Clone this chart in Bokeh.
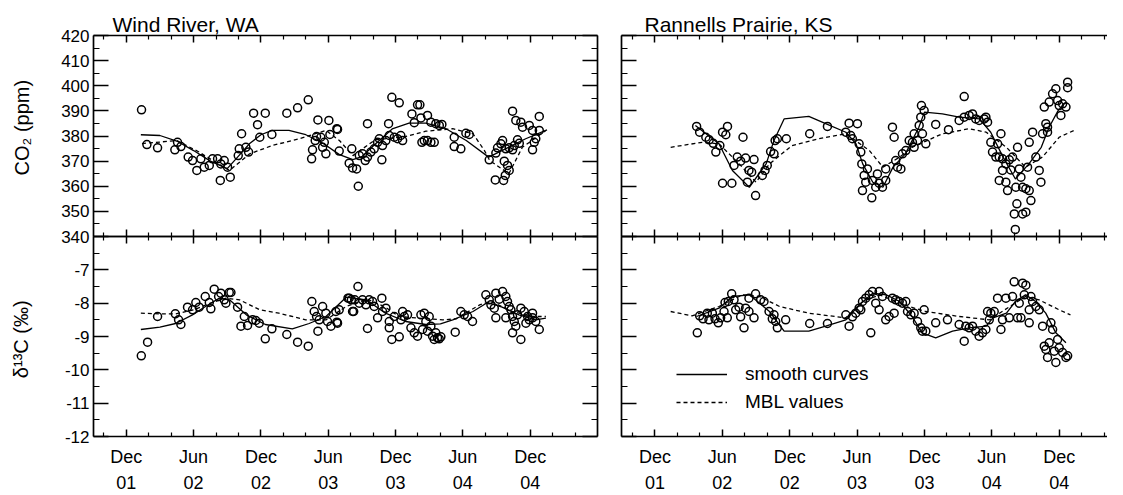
from bokeh.plotting import figure
from bokeh.models import LinearAxis, FixedTicker, Range1d, Legend, LegendItem
from bokeh.layouts import column, row
from bokeh.embed import file_html
from bokeh.resources import INLINE

FONT = "Liberation Sans"

# x values: months relative to Dec 2001
x_major = [0, 6, 12, 18, 24, 30, 36]
x_minor = [-2, 2, 4, 8, 10, 14, 16, 20, 22, 26, 28, 32, 34, 38, 40]
x_labels = ["Dec\n01", "Jun\n02", "Dec\n02", "Jun\n03", "Dec\n03", "Jun\n04", "Dec\n04"]

co2_major = [340, 350, 360, 370, 380, 390, 400, 410, 420]
co2_minor = [345, 355, 365, 375, 385, 395, 405, 415]
d13c_major = [-12, -11, -10, -9, -8, -7]
d13c_minor = [-11.5, -10.5, -9.5, -8.5, -7.5, -6.5]
d13c_labels = ["-12", "-11", "-10", "-9", "-8", "-7"]

titles = ["Wind River, WA", "Rannells Prairie, KS"]
legend_labels = ["smooth curves", "MBL values"]

# ---------------- Wind River CO2 ----------------
wr_co2_t = [1.36, 1.84, 2.79, 4.33, 4.57, 4.87, 5.52, 5.91, 6.29, 6.65, 6.95, 7.40, 7.69, 8.14, 8.43,
            8.73, 9.03, 8.38, 9.27, 9.98, 10.07, 10.28, 10.66, 10.90, 11.35, 11.70, 11.90, 12.39, 12.98,
            14.31, 15.27, 16.22, 17.08, 18.06, 18.77, 16.52, 16.60, 16.84, 16.96, 17.34, 17.65, 17.79,
            18.15, 17.50, 18.98, 19.87, 20.10, 18.83, 20.17, 20.53, 20.68, 20.77, 21.06, 21.30, 21.50,
            21.80, 22.10, 22.78, 21.50, 22.40, 22.55, 22.84, 23.14, 23.44, 23.38, 23.67, 24.33, 23.89,
            24.18, 24.63, 24.47, 25.46, 25.67, 25.96, 26.17, 26.35, 26.56, 26.85, 27.15, 27.45, 26.26,
            26.85, 27.15, 27.59, 27.90, 28.13, 29.23, 29.23, 29.82, 30.27, 30.57, 32.35, 32.94, 33.09,
            33.39, 33.54, 33.83, 34.13, 34.43, 34.58, 35.03, 32.89, 33.63, 33.78, 34.13, 33.98, 33.69,
            34.43, 34.72, 35.17, 35.32, 35.92, 36.21, 36.50, 36.21, 36.36, 36.81, 36.81, 34.87]
wr_co2_v = [390.4, 376.6, 375.3, 374.5, 377.5, 375.8, 371.6, 370.2, 366.3, 370.9, 367.6, 368.3, 370.9, 370.9, 368.9,
            370.2, 367.6, 362.3, 363.6, 372.2, 374.9, 380.9, 375.5, 373.6, 389.1, 384.5, 379.5, 389.1, 380.6,
            389.1, 391.2, 394.4, 386.4, 386.2, 382.9, 370.9, 374.5, 378.2, 379.8, 379.5, 377.5, 372.9,
            380.6, 375.5, 374.0, 369.2, 374.9, 382.6, 367.3, 366.9, 360.0, 372.2, 372.9, 370.2, 371.6,
            373.6, 374.9, 370.5, 384.9, 377.5, 378.9, 376.2, 378.2, 380.2, 384.9, 395.4, 393.2, 379.5,
            378.9, 378.2, 380.2, 388.8, 385.3, 392.4, 392.4, 377.5, 378.2, 378.2, 377.5, 377.5, 387.2,
            388.2, 385.5, 384.9, 384.2, 384.6, 379.5, 375.8, 374.9, 381.1, 380.6, 370.5, 373.2, 375.3,
            376.9, 378.2, 374.9, 375.3, 374.5, 376.2, 377.1, 362.5, 362.3, 364.3, 366.3, 368.3, 370.0,
            389.9, 386.2, 385.5, 383.5, 384.2, 382.2, 378.9, 374.5, 377.5, 387.8, 382.2, 378.5]
wr_co2_smooth_t = [1.3, 3.0, 4.5, 6.0, 7.5, 9.0, 10.0, 11.0, 12.0, 13.0, 14.5, 16.0, 17.5, 19.0, 20.2,
                   21.0, 22.2, 23.7, 25.2, 26.7, 28.5, 30.3, 32.3, 33.8, 35.6, 37.5]
wr_co2_smooth_v = [380.5, 380.2, 378.0, 374.2, 370.0, 367.0, 372.0, 377.0, 380.5, 382.2, 382.2, 380.5, 377.2,
                   372.6, 370.6, 371.8, 376.8, 382.8, 385.1, 385.1, 382.9, 378.2, 371.6, 374.9, 378.9, 382.4]
wr_co2_mbl_t = [1.4, 3.0, 4.5, 6.5, 7.8, 9.2, 11.0, 13.0, 15.4, 17.8, 19.0, 20.2, 22.2, 24.9, 26.7,
                29.1, 30.9, 31.9, 32.4, 34.1, 35.3, 37.4]
wr_co2_mbl_v = [377.0, 377.6, 378.2, 373.6, 370.0, 366.3, 372.9, 376.2, 378.9, 382.2, 378.2, 372.2, 378.5,
                379.8, 381.9, 382.9, 380.9, 374.4, 370.2, 365.0, 375.5, 382.2]

# ---------------- Wind River d13C ----------------
wr_d13c_t = [1.34, 1.90, 2.79, 4.37, 4.66, 4.87, 5.46, 5.91, 6.20, 6.50, 7.04, 7.40, 7.54, 7.84, 8.23,
             8.43, 8.73, 8.88, 9.18, 9.33, 9.92, 10.22, 10.52, 10.81, 11.26, 11.55, 11.85, 12.39, 12.98,
             14.31, 15.27, 16.22, 16.54, 16.75, 16.96, 17.20, 17.08, 17.50, 17.79, 17.94, 18.24, 18.77,
             18.98, 19.87, 20.17, 18.68, 18.83, 19.76, 20.06, 20.36, 20.27, 20.65, 20.77, 21.06, 21.36,
             21.50, 21.65, 21.95, 22.10, 22.40, 22.78, 22.84, 23.14, 23.44, 23.44, 23.67, 23.89, 24.33,
             24.63, 24.78, 24.48, 25.07, 25.37, 25.67, 25.96, 26.26, 26.56, 26.70, 27.00, 26.41, 26.85,
             27.15, 27.30, 27.45, 27.59, 27.74, 27.89, 28.04, 29.32, 29.82, 30.12, 30.42, 30.86, 32.05,
             32.35, 32.50, 32.94, 33.24, 32.80, 32.94, 33.54, 33.83, 33.98, 34.13, 34.28, 34.43, 34.58,
             34.72, 34.43, 35.17, 34.87, 35.17, 35.47, 35.77, 35.92, 36.21, 36.50, 36.81, 33.83, 35.62, 36.21]
wr_d13c_v = [-9.58, -9.17, -8.40, -8.32, -8.50, -8.64, -8.12, -8.20, -7.98, -8.12, -7.80, -7.98, -8.17, -7.58, -7.80,
             -7.70, -7.90, -8.00, -7.68, -7.68, -8.12, -8.69, -8.40, -8.67, -8.50, -8.52, -8.60, -9.07, -8.77,
             -8.94, -9.17, -9.29, -7.95, -8.25, -8.40, -8.50, -8.84, -8.10, -8.30, -8.55, -8.69, -8.57,
             -8.20, -7.85, -8.25, -8.25, -8.60, -7.85, -7.90, -7.90, -8.25, -7.50, -8.00, -7.90, -8.05,
             -8.76, -7.90, -7.95, -8.10, -8.44, -7.85, -8.25, -8.15, -8.55, -8.74, -9.09, -8.40, -9.01,
             -8.25, -8.40, -8.50, -8.35, -8.74, -8.89, -8.99, -8.35, -8.30, -8.55, -8.40, -8.79, -8.84,
             -8.69, -8.99, -9.09, -8.89, -9.04, -9.07, -9.01, -8.87, -8.25, -8.35, -8.40, -8.55, -7.75,
             -7.90, -8.05, -7.70, -7.88, -8.15, -8.44, -7.65, -7.80, -7.95, -8.10, -8.20, -8.40, -8.55,
             -8.69, -8.89, -9.09, -8.35, -8.15, -8.25, -8.40, -8.50, -8.44, -8.55, -8.79, -8.44, -8.60, -8.30]
wr_d13c_smooth_t = [1.3, 3.0, 4.4, 5.9, 7.2, 8.3, 9.2, 10.7, 12.4, 14.8, 16.3, 17.8, 19.6, 21.4, 23.1,
                    24.9, 26.7, 28.0, 29.1, 30.9, 32.2, 33.5, 35.0, 36.5, 37.4]
wr_d13c_smooth_v = [-8.79, -8.72, -8.61, -8.35, -8.07, -7.85, -7.90, -8.35, -8.64, -8.77, -8.61, -8.40, -7.82,
                    -7.90, -8.30, -8.55, -8.64, -8.62, -8.50, -8.25, -7.98, -8.12, -8.35, -8.50, -8.45]
wr_d13c_mbl_t = [1.3, 3.0, 4.4, 6.0, 7.5, 8.9, 10.1, 11.9, 13.6, 16.0, 17.8, 19.6, 21.5, 23.0, 24.3,
                 26.1, 28.2, 29.4, 31.5, 32.5, 34.4, 36.2, 37.4]
wr_d13c_mbl_v = [-8.30, -8.32, -8.32, -8.20, -8.00, -7.85, -7.90, -8.20, -8.30, -8.50, -8.50, -8.10, -7.88,
                 -8.10, -8.40, -8.45, -8.50, -8.47, -8.05, -7.95, -8.25, -8.40, -8.40]

# ---------------- Rannells Prairie CO2 ----------------
rp_co2_t = [3.71, 3.98, 4.53, 4.83, 5.19, 5.42, 5.78, 6.02, 6.46, 6.31, 6.02, 6.85, 7.04, 7.33, 7.63,
            8.07, 8.37, 8.23, 8.82, 8.61, 8.96, 9.56, 9.80, 10.00, 10.30, 10.60, 10.70, 10.90, 11.70,
            7.84, 13.78, 15.36, 17.29, 18.03, 16.99, 17.43, 17.58, 18.18, 18.33, 18.42, 18.63, 18.92,
            18.77, 19.37, 19.66, 19.96, 20.26, 20.55, 19.81, 18.48, 19.31, 20.55, 21.15, 21.30, 21.44,
            21.60, 21.90, 22.04, 22.34, 22.64, 22.93, 23.08, 23.08, 23.38, 23.67, 23.73, 23.97, 24.12,
            23.82, 23.53, 25.00, 26.14, 27.54, 27.09, 27.54, 27.98, 28.28, 28.57, 28.87, 29.32, 29.62,
            29.47, 29.91, 30.06, 30.36, 30.51, 30.81, 30.66, 30.95, 31.25, 31.55, 31.84, 31.69, 30.95,
            30.66, 31.25, 31.40, 32.29, 32.44, 32.59, 32.14, 32.74, 33.03, 33.33, 33.48, 32.23, 32.00,
            32.74, 33.03, 32.09, 33.18, 33.33, 33.63, 33.92, 34.22, 34.37, 34.52, 34.67, 34.81, 34.96,
            35.11, 35.41, 35.70, 35.86, 36.00, 36.15, 36.30, 36.60, 36.75, 36.75, 34.96]
rp_co2_v = [383.8, 381.5, 379.5, 378.5, 377.1, 373.6, 376.2, 381.5, 383.8, 380.5, 361.2, 361.2, 368.3, 371.6, 370.0,
            371.2, 366.3, 361.6, 370.6, 365.6, 356.3, 364.3, 366.3, 368.3, 373.8, 372.9, 378.2, 378.9, 378.9,
            379.5, 380.9, 383.8, 385.1, 384.9, 381.5, 380.2, 378.9, 376.9, 373.6, 368.9, 364.3, 366.9,
            361.6, 362.3, 359.6, 361.2, 359.6, 362.3, 364.9, 358.3, 355.4, 366.9, 383.5, 379.5, 370.2,
            367.6, 366.9, 372.9, 374.2, 378.2, 377.5, 380.9, 375.5, 378.2, 387.5, 392.1, 390.1, 376.9,
            380.9, 384.2, 384.6, 382.5, 395.7, 386.2, 387.5, 388.2, 388.8, 386.8, 386.2, 386.8, 385.5,
            387.5, 377.5, 373.6, 371.6, 376.9, 380.9, 371.6, 370.9, 368.9, 370.5, 371.6, 366.5, 366.3,
            362.3, 361.6, 358.3, 375.5, 366.9, 363.6, 359.6, 359.6, 359.0, 358.3, 354.3, 353.0, 349.0,
            349.0, 349.7, 342.8, 367.6, 377.5, 381.5, 371.6, 366.3, 361.6, 380.9, 391.5, 384.9, 381.5,
            393.5, 396.8, 398.8, 394.1, 392.1, 388.2, 392.8, 391.5, 401.4, 399.2, 383.5]
rp_co2_smooth_t = [3.6, 5.7, 6.9, 8.4, 9.9, 10.6, 11.5, 13.7, 15.2, 17.0, 17.9, 18.5, 19.4, 20.3, 21.2,
                   22.3, 23.5, 24.0, 25.6, 27.1, 28.9, 29.9, 31.0, 32.1, 33.3, 34.4, 35.1, 35.9, 36.6]
rp_co2_smooth_v = [384.2, 376.9, 366.3, 359.6, 368.9, 378.2, 386.8, 387.8, 384.9, 381.5, 376.9, 368.9, 361.6,
                   359.6, 367.6, 372.9, 383.5, 389.5, 388.8, 387.5, 386.8, 381.5, 371.6, 362.9, 368.9, 375.5,
                   383.5, 390.1, 393.5]
rp_co2_mbl_t = [1.4, 4.2, 5.7, 7.5, 9.0, 10.2, 12.2, 14.6, 17.0, 19.1, 20.3, 21.8, 22.9, 25.6, 28.0,
                29.5, 31.3, 33.0, 34.5, 36.0, 37.3]
rp_co2_mbl_v = [375.5, 377.5, 376.9, 368.9, 361.6, 368.9, 376.2, 378.9, 380.9, 374.2, 367.6, 371.6, 375.5,
                380.9, 382.9, 381.5, 375.5, 367.6, 371.6, 379.5, 382.2]

# ---------------- Rannells Prairie d13C ----------------
rp_d13c_t = [3.77, 3.98, 4.28, 4.66, 4.81, 5.11, 5.35, 5.64, 5.85, 6.15, 6.44, 6.24, 6.53, 6.83, 7.04,
             7.19, 7.49, 7.63, 7.93, 8.07, 8.37, 8.82, 8.37, 8.96, 9.41, 9.71, 10.16, 10.45, 10.75,
             10.90, 10.60, 11.64, 13.78, 15.36, 17.00, 17.29, 17.59, 17.88, 18.18, 18.48, 18.33, 18.77,
             19.07, 19.37, 19.22, 19.66, 19.96, 19.96, 20.26, 20.55, 20.85, 21.15, 21.30, 21.44, 21.75,
             22.04, 22.34, 22.49, 22.79, 23.08, 23.38, 23.67, 23.82, 23.97, 24.12, 25.00, 26.05, 27.09,
             27.54, 27.68, 27.98, 28.28, 28.57, 28.87, 29.17, 29.47, 29.62, 29.77, 29.91, 30.21, 30.51,
             30.81, 30.95, 31.25, 31.55, 31.84, 31.99, 32.29, 32.44, 32.59, 32.74, 33.03, 32.89, 33.33,
             33.48, 33.63, 33.92, 34.22, 34.52, 34.67, 34.96, 34.81, 35.11, 35.26, 35.41, 35.56, 35.70,
             35.86, 36.00, 36.30, 36.60, 36.75, 33.33]
rp_d13c_v = [-8.89, -8.38, -8.47, -8.30, -8.50, -8.30, -8.47, -8.59, -8.44, -8.25, -8.44, -7.98, -7.95, -7.72, -7.90,
             -8.20, -8.12, -8.41, -8.74, -8.15, -8.25, -8.44, -7.85, -7.72, -7.90, -7.95, -8.25, -8.47, -8.55,
             -8.74, -8.35, -8.50, -8.61, -8.61, -8.35, -8.69, -8.41, -8.30, -8.15, -7.95, -8.20, -7.85,
             -7.75, -7.65, -8.89, -8.00, -8.20, -7.65, -7.80, -8.50, -8.40, -7.85, -8.30, -7.90, -7.95,
             -8.00, -7.95, -8.25, -8.35, -8.30, -8.55, -8.74, -8.84, -8.20, -8.84, -8.59, -8.50, -8.64,
             -9.14, -8.69, -8.74, -8.69, -8.84, -8.99, -8.89, -8.79, -8.25, -8.50, -8.30, -8.25, -7.85,
             -8.79, -8.50, -7.85, -8.44, -7.80, -7.36, -8.44, -8.00, -8.44, -7.40, -7.46, -7.75, -8.59,
             -7.80, -7.95, -8.10, -8.20, -8.69, -9.29, -9.63, -9.39, -9.19, -8.59, -8.79, -9.44, -9.78,
             -9.09, -9.34, -9.48, -9.63, -9.58, -8.20]
rp_d13c_smooth_t = [3.7, 5.7, 6.9, 8.4, 10.2, 11.5, 13.7, 15.2, 17.0, 18.2, 19.4, 20.6, 21.8, 22.9, 23.8,
                    25.0, 26.5, 28.0, 29.5, 30.1, 31.3, 32.1, 33.0, 33.9, 34.8, 35.7, 36.6]
rp_d13c_smooth_v = [-8.40, -8.15, -7.80, -7.75, -8.25, -8.84, -8.84, -8.69, -8.50, -8.05, -7.70, -7.75, -7.95,
                    -8.40, -8.89, -9.04, -8.84, -8.74, -8.69, -8.44, -8.30, -7.95, -7.75, -7.95, -8.30, -8.89,
                    -9.19]
rp_d13c_mbl_t = [1.4, 3.3, 5.7, 7.8, 9.3, 11.1, 13.7, 17.0, 18.5, 20.0, 22.6, 24.1, 27.1, 29.8, 31.6,
                 33.0, 34.2, 36.0, 37.0]
rp_d13c_mbl_v = [-8.25, -8.38, -8.10, -7.75, -7.80, -8.10, -8.30, -8.44, -7.95, -7.75, -8.10, -8.25, -8.40,
                 -8.50, -8.10, -7.80, -7.90, -8.20, -8.35]


def add_axis(p, side, ticker, major_len, minor_len, labels=False, label_size="17px",
             overrides=None, axis_label=None, axis_label_standoff=0, standoff=4, line_height=1.2):
    ax = LinearAxis(ticker=ticker)
    ax.axis_line_color = "black"
    ax.axis_line_width = 1.7
    ax.major_tick_in = major_len
    ax.major_tick_out = 0
    ax.minor_tick_in = minor_len
    ax.minor_tick_out = 0
    ax.major_tick_line_color = "black"
    ax.minor_tick_line_color = "black"
    ax.major_tick_line_width = 1.5
    ax.minor_tick_line_width = 1.2
    if labels:
        ax.major_label_text_font = FONT
        ax.major_label_text_font_size = label_size
        ax.major_label_text_color = "black"
        ax.major_label_text_line_height = line_height
        ax.major_label_standoff = standoff
        if overrides:
            ax.major_label_overrides = overrides
    else:
        ax.major_label_text_font_size = "0px"
        ax.major_label_standoff = 0
    if axis_label:
        ax.axis_label = axis_label
        ax.axis_label_text_font = FONT
        ax.axis_label_text_font_size = "20px"
        ax.axis_label_text_font_style = "normal"
        ax.axis_label_text_color = "black"
        ax.axis_label_standoff = axis_label_standoff
    p.add_layout(ax, side)
    return ax


def make_fig(width, height, xr, yr, mbl, mbr, mbt, mbb):
    p = figure(width=width, height=height, x_range=Range1d(*xr), y_range=Range1d(*yr),
               output_backend="svg", toolbar_location=None,
               x_axis_location=None, y_axis_location=None,
               min_border_left=mbl, min_border_right=mbr, min_border_top=mbt, min_border_bottom=mbb)
    p.outline_line_color = None
    p.xgrid.visible = False
    p.ygrid.visible = False
    p.background_fill_alpha = 0
    p.border_fill_alpha = 0
    return p


def draw(p, t, v, st, sv, mt, mv):
    r_s = p.line(st, sv, line_color="black", line_width=1.3)
    r_m = p.line(mt, mv, line_color="black", line_width=1.3, line_dash="4 3")
    p.scatter(t, v, marker="circle", size=8, fill_color=None, line_color="black", line_width=1.5)
    return r_s, r_m


xt = FixedTicker(ticks=x_major, minor_ticks=x_minor)
co2_tk = FixedTicker(ticks=co2_major, minor_ticks=co2_minor)
d13_tk = FixedTicker(ticks=d13c_major, minor_ticks=d13c_minor)
x_over = {k: lab for k, lab in zip(x_major, x_labels)}
d13_over = {k: lab for k, lab in zip(d13c_major, d13c_labels)}

XL = (-2.92, 42.0)
XR = (-2.98, 40.3)
OVER = 10  # px each figure extends past the shared panel boundary

# top-left
p1 = make_fig(609, 35 + 201 + OVER, XL, (340, 420), 93, 12, 35, OVER)
add_axis(p1, "left", co2_tk, 15, 6, labels=True,
         axis_label="\u00a0\u00a0\u00a0CO\u2082 (ppm)", axis_label_standoff=25)
add_axis(p1, "right", co2_tk, 15, 6)
add_axis(p1, "above", xt, 7, 4)
add_axis(p1, "below", xt, 7, 4)
draw(p1, wr_co2_t, wr_co2_v, wr_co2_smooth_t, wr_co2_smooth_v, wr_co2_mbl_t, wr_co2_mbl_v)
p1.title.text = titles[0]

# top-right
p2 = make_fig(498, 35 + 201 + OVER, XR, (340, 420), 12, 0, 35, OVER)
add_axis(p2, "left", co2_tk, 15, 6)
add_axis(p2, "above", xt, 7, 4)
add_axis(p2, "below", xt, 7, 4)
draw(p2, rp_co2_t, rp_co2_v, rp_co2_smooth_t, rp_co2_smooth_v, rp_co2_mbl_t, rp_co2_mbl_v)
p2.title.text = titles[1]

for p, off in ((p1, 19), (p2, 23)):
    p.title.text_font = FONT
    p.title.text_font_size = "21px"
    p.title.text_font_style = "normal"
    p.title.text_color = "black"
    p.title.align = "left"
    p.title.offset = off
    p.title.standoff = 0

# bottom-left
p3 = make_fig(609, OVER + 202 + 57, XL, (-12, -6), 93, 12, OVER, 57)
add_axis(p3, "left", d13_tk, 15, 6, labels=True, overrides=d13_over,
         axis_label="\u03b4\u00b9\u00b3C  (\u2030)", axis_label_standoff=30)
add_axis(p3, "right", d13_tk, 15, 6)
add_axis(p3, "above", xt, 7, 4)
add_axis(p3, "below", xt, 7, 4, labels=True, label_size="18px", overrides=x_over,
         standoff=10, line_height=1.3)
draw(p3, wr_d13c_t, wr_d13c_v, wr_d13c_smooth_t, wr_d13c_smooth_v, wr_d13c_mbl_t, wr_d13c_mbl_v)

# bottom-right
p4 = make_fig(498, OVER + 202 + 57, XR, (-12, -6), 12, 0, OVER, 57)
add_axis(p4, "left", d13_tk, 15, 6)
add_axis(p4, "above", xt, 7, 4)
add_axis(p4, "below", xt, 7, 4, labels=True, label_size="18px", overrides=x_over,
         standoff=10, line_height=1.3)
rs, rm = draw(p4, rp_d13c_t, rp_d13c_v, rp_d13c_smooth_t, rp_d13c_smooth_v, rp_d13c_mbl_t, rp_d13c_mbl_v)

legend = Legend(items=[LegendItem(label=legend_labels[0], renderers=[rs]),
                       LegendItem(label=legend_labels[1], renderers=[rm])],
                location=(55, 23))
legend.padding = 0
legend.margin = 0
legend.spacing = 6
legend.glyph_width = 51
legend.glyph_height = 20
legend.label_height = 20
legend.label_standoff = 18
legend.label_text_font = FONT
legend.label_text_font_size = "19px"
legend.label_text_color = "black"
legend.border_line_color = None
legend.background_fill_alpha = 0
p4.add_layout(legend)

top = row(p1, p2)
bottom = row(p3, p4, margin=(-2 * OVER, 0, 0, 0))
layout = column(top, bottom)
open("out.html", "w").write(file_html(layout, INLINE))
